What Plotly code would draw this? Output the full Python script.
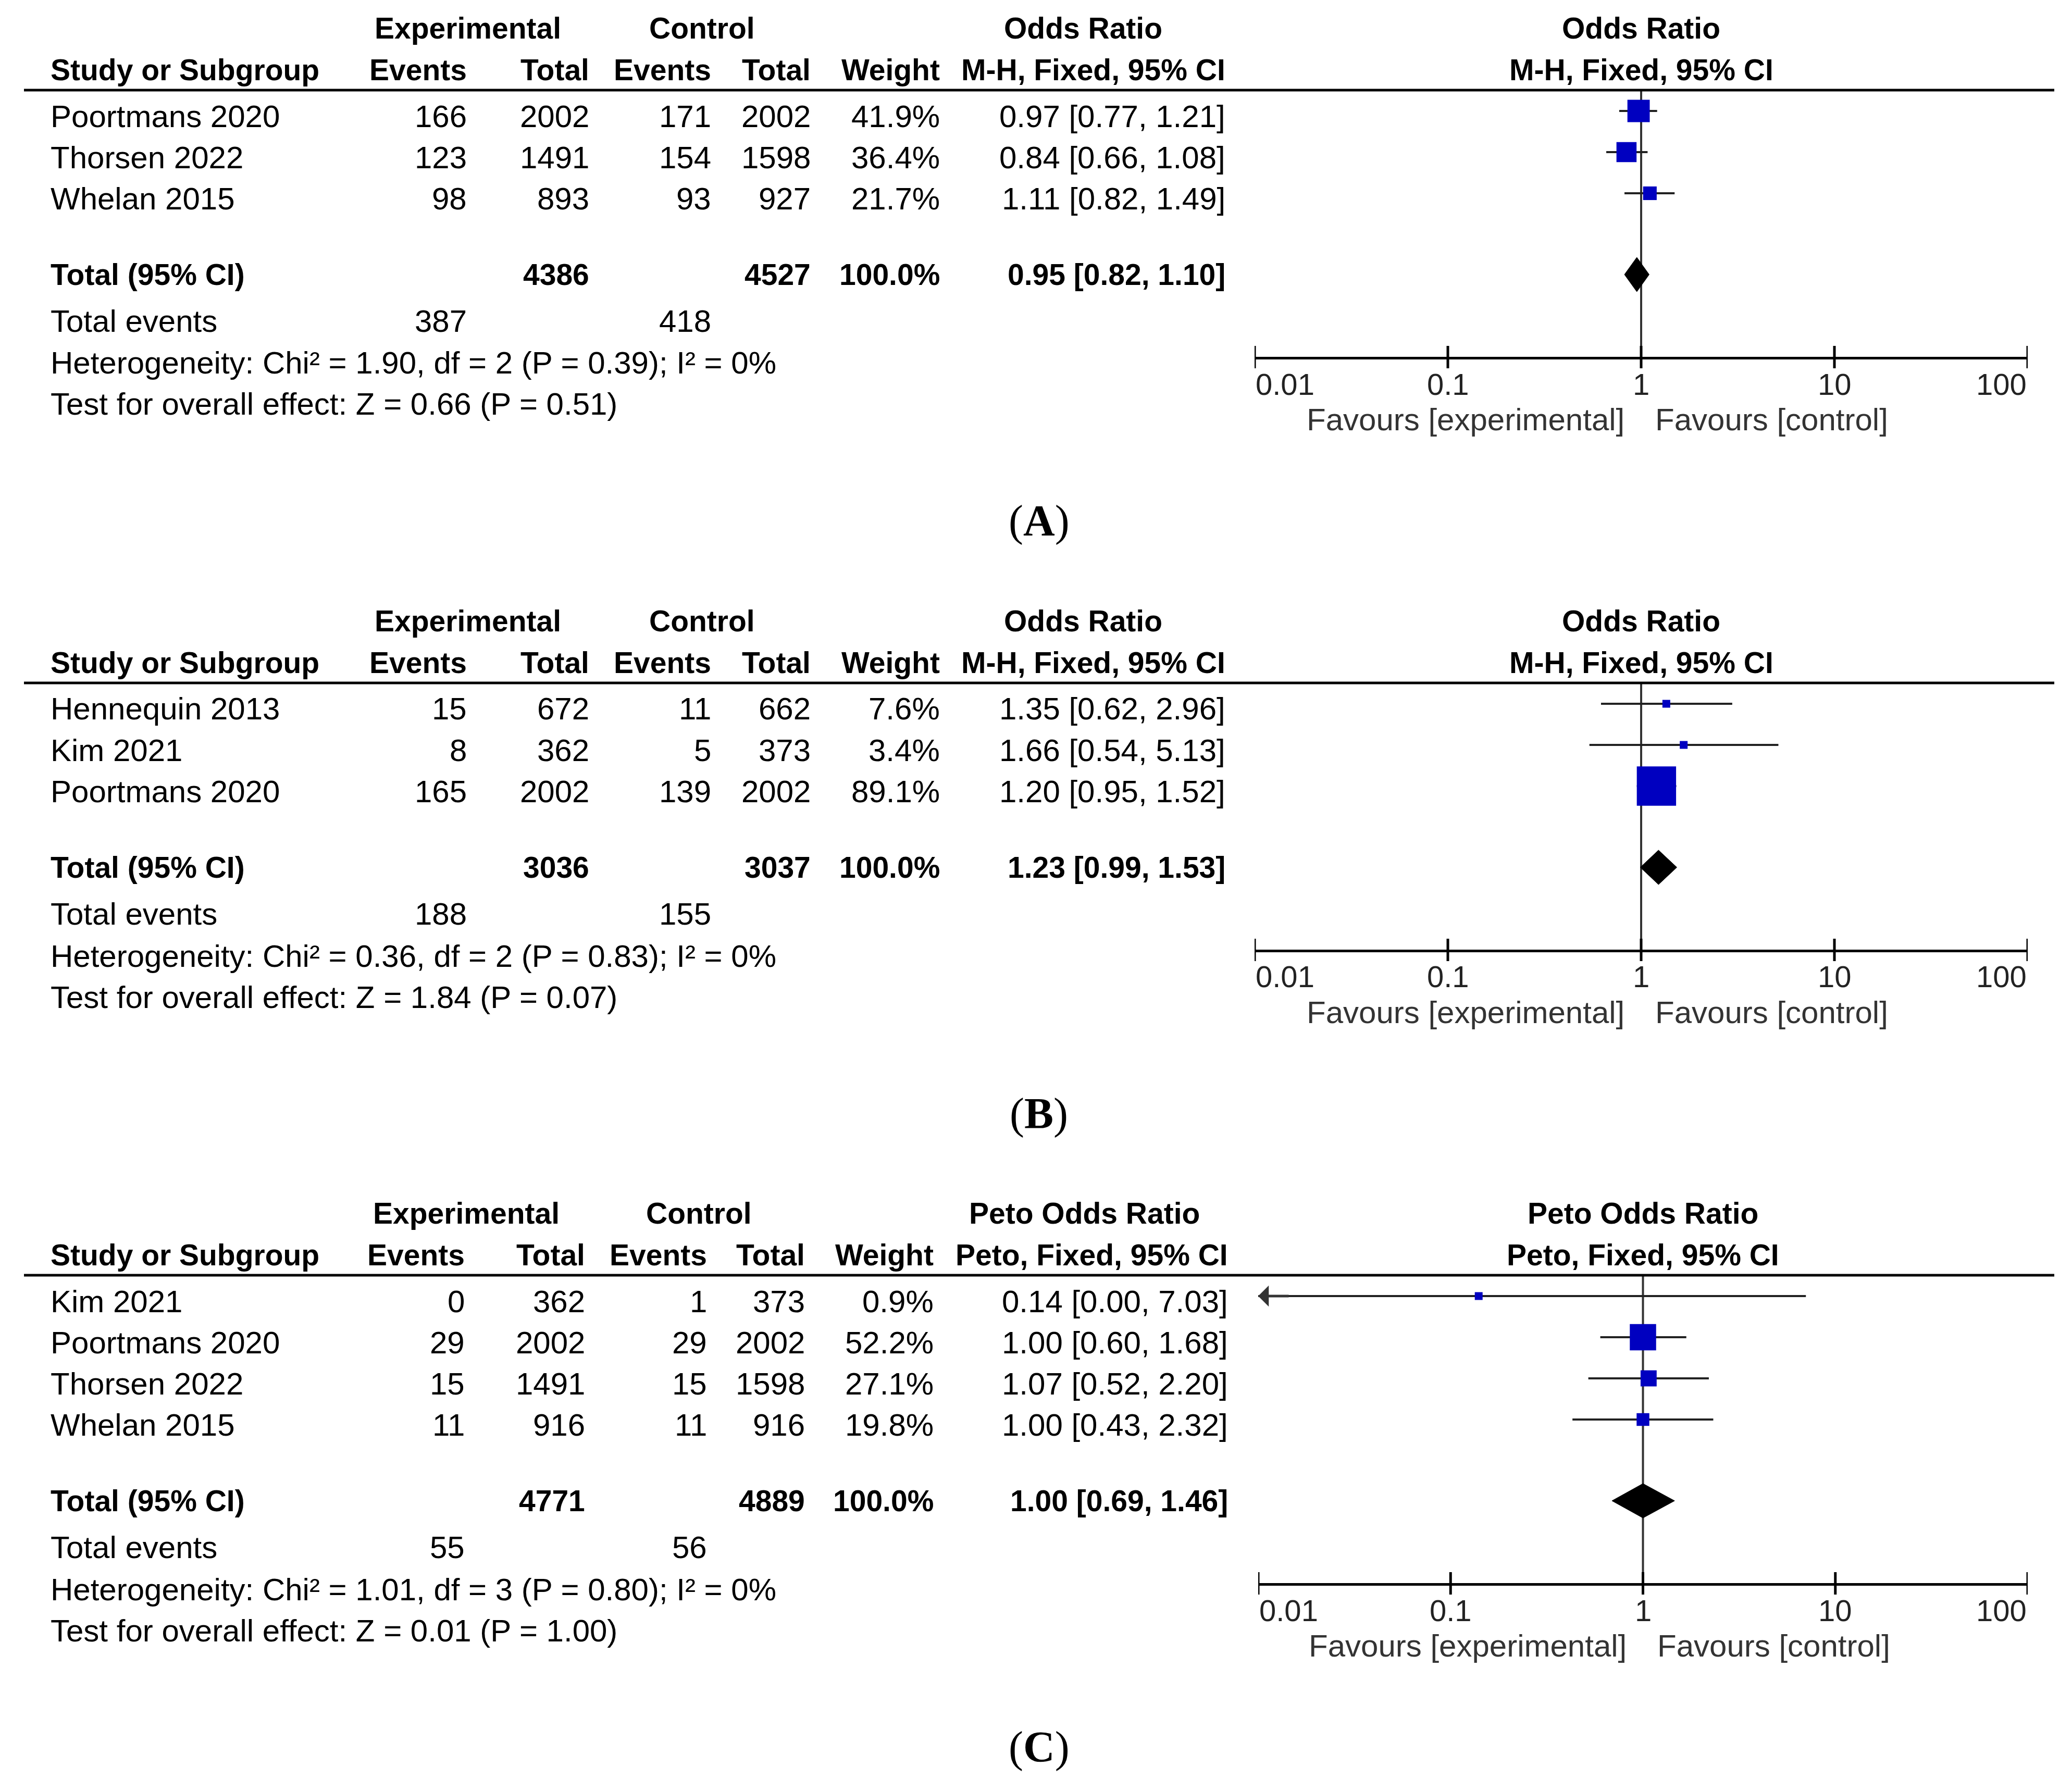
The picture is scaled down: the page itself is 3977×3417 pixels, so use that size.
import math
import plotly.graph_objects as go

W, H = 3977, 3417

# ---------------- data ----------------
tick_vals = [0.01, 0.1, 1, 10, 100]
tick_text = ["0.01", "0.1", "1", "10", "100"]

# Panel A
a_study = ["Poortmans 2020", "Thorsen 2022", "Whelan 2015"]
a_exp_events = [166, 123, 98]
a_exp_total = [2002, 1491, 893]
a_ctl_events = [171, 154, 93]
a_ctl_total = [2002, 1598, 927]
a_weight = [41.9, 36.4, 21.7]
a_or = [0.97, 0.84, 1.11]
a_lo = [0.77, 0.66, 0.82]
a_hi = [1.21, 1.08, 1.49]
a_totals = [4386, 4527]
a_total_events = [387, 418]
a_pooled = [0.95, 0.82, 1.10]
a_het = "Heterogeneity: Chi² = 1.90, df = 2 (P = 0.39); I² = 0%"
a_test = "Test for overall effect: Z = 0.66 (P = 0.51)"

# Panel B
b_study = ["Hennequin 2013", "Kim 2021", "Poortmans 2020"]
b_exp_events = [15, 8, 165]
b_exp_total = [672, 362, 2002]
b_ctl_events = [11, 5, 139]
b_ctl_total = [662, 373, 2002]
b_weight = [7.6, 3.4, 89.1]
b_or = [1.35, 1.66, 1.20]
b_lo = [0.62, 0.54, 0.95]
b_hi = [2.96, 5.13, 1.52]
b_totals = [3036, 3037]
b_total_events = [188, 155]
b_pooled = [1.23, 0.99, 1.53]
b_het = "Heterogeneity: Chi² = 0.36, df = 2 (P = 0.83); I² = 0%"
b_test = "Test for overall effect: Z = 1.84 (P = 0.07)"

# Panel C
c_study = ["Kim 2021", "Poortmans 2020", "Thorsen 2022", "Whelan 2015"]
c_exp_events = [0, 29, 15, 11]
c_exp_total = [362, 2002, 1491, 916]
c_ctl_events = [1, 29, 15, 11]
c_ctl_total = [373, 2002, 1598, 916]
c_weight = [0.9, 52.2, 27.1, 19.8]
c_or = [0.14, 1.00, 1.07, 1.00]
c_lo = [0.00, 0.60, 0.52, 0.43]
c_hi = [7.03, 1.68, 2.20, 2.32]
c_totals = [4771, 4889]
c_total_events = [55, 56]
c_pooled = [1.00, 0.69, 1.46]
c_het = "Heterogeneity: Chi² = 1.01, df = 3 (P = 0.80); I² = 0%"
c_test = "Test for overall effect: Z = 0.01 (P = 1.00)"

panel_labels = ["A", "B", "C"]

# ---------------- layout constants (pixels) ----------------
FONT = "Liberation Sans"
SERIF = "Liberation Serif"
FS = 60
FSB = 57
TXT = "#000000"
GREY = "#222222"
BLUE = "#0000C0"

HDR1, HDR2, LINE, ROW0, ROWH = 54, 134, 173, 223, 79
TOT_GAP, EVT, HET, TEST, AXIS = 146, 89, 170, 249, 160
TICKLAB, FAV, LABEL = 50, 118, 473
MARK_OFF = -10
DIAM_H = 33

panels = [
    dict(study=a_study, ee=a_exp_events, et=a_exp_total, ce=a_ctl_events, ct=a_ctl_total,
         w=a_weight, est=a_or, lo=a_lo, hi=a_hi, totals=a_totals, tev=a_total_events,
         pooled=a_pooled, het=a_het, test=a_test, m1="Odds Ratio", m2="M-H, Fixed, 95% CI",
         base=0, cols=[898, 1133, 1367, 1558, 1806, 2354], hc=[898, 1347, 2079],
         name_x=95, fx=[2408, 3892]),
    dict(study=b_study, ee=b_exp_events, et=b_exp_total, ce=b_ctl_events, ct=b_ctl_total,
         w=b_weight, est=b_or, lo=b_lo, hi=b_hi, totals=b_totals, tev=b_total_events,
         pooled=b_pooled, het=b_het, test=b_test, m1="Odds Ratio", m2="M-H, Fixed, 95% CI",
         base=1138, cols=[898, 1133, 1367, 1558, 1806, 2354], hc=[898, 1347, 2079],
         name_x=95, fx=[2408, 3892]),
    dict(study=c_study, ee=c_exp_events, et=c_exp_total, ce=c_ctl_events, ct=c_ctl_total,
         w=c_weight, est=c_or, lo=c_lo, hi=c_hi, totals=c_totals, tev=c_total_events,
         pooled=c_pooled, het=c_het, test=c_test, m1="Peto Odds Ratio", m2="Peto, Fixed, 95% CI",
         base=2275, cols=[894, 1125, 1359, 1547, 1794, 2359], hc=[895, 1341, 2081],
         name_x=95, fx=[2415, 3892]),
]


def px(x):
    return x / W


def py(y):
    return 1 - y / H


annotations = []
shapes = []
fig = go.Figure()


def text(t, x, y, anchor="left", bold=False, size=None, color=TXT, family=FONT, xref="paper", xshift=0):
    annotations.append(dict(
        text=f"<b>{t}</b>" if bold else t,
        x=x if xref != "paper" else px(x), y=py(y), xref=xref, yref="paper",
        xanchor=anchor, yanchor="middle", showarrow=False, xshift=xshift,
        font=dict(family=family, size=size or (FSB if bold else FS), color=color),
    ))


def ci_str(e, l, h):
    return f"{e:.2f} [{l:.2f}, {h:.2f}]"


layout_axes = {}
for i, p in enumerate(panels):
    b = p["base"]
    n = len(p["study"])
    cols = p["cols"]
    xa = "x" if i == 0 else f"x{i+1}"
    ya = "y" if i == 0 else f"y{i+1}"
    xname = "xaxis" if i == 0 else f"xaxis{i+1}"
    yname = "yaxis" if i == 0 else f"yaxis{i+1}"

    rows = [ROW0 + k * ROWH for k in range(n)]
    tot = rows[-1] + TOT_GAP
    axis_y = tot + AXIS

    # ---- header ----
    text("Experimental", p["hc"][0], b + HDR1, "center", bold=True)
    text("Control", p["hc"][1], b + HDR1, "center", bold=True)
    text(p["m1"], p["hc"][2], b + HDR1, "center", bold=True)
    text("Study or Subgroup", p["name_x"], b + HDR2, "left", bold=True)
    for lab, cx in zip(["Events", "Total", "Events", "Total", "Weight", p["m2"]], cols):
        text(lab, cx, b + HDR2, "right", bold=True)
    text(p["m1"], 0, b + HDR1, "center", bold=True, xref=xa)
    text(p["m2"], 0, b + HDR2, "center", bold=True, xref=xa)

    shapes.append(dict(type="line", xref="paper", yref="paper", x0=px(46), x1=px(3943),
                       y0=py(b + LINE), y1=py(b + LINE), line=dict(color="black", width=5)))

    # ---- study rows ----
    for k in range(n):
        y = b + rows[k]
        text(p["study"][k], p["name_x"], y, "left")
        vals = [str(p["ee"][k]), str(p["et"][k]), str(p["ce"][k]), str(p["ct"][k]),
                f"{p['w'][k]:.1f}%", ci_str(p["est"][k], p["lo"][k], p["hi"][k])]
        for v, cx in zip(vals, cols):
            text(v, cx, y, "right")

    # ---- totals ----
    yt = b + tot
    text("Total (95% CI)", p["name_x"], yt, "left", bold=True)
    text(str(p["totals"][0]), cols[1], yt, "right", bold=True)
    text(str(p["totals"][1]), cols[3], yt, "right", bold=True)
    text("100.0%", cols[4], yt, "right", bold=True)
    text(ci_str(*p["pooled"]), cols[5], yt, "right", bold=True)
    text("Total events", p["name_x"], yt + EVT, "left")
    text(str(p["tev"][0]), cols[0], yt + EVT, "right")
    text(str(p["tev"][1]), cols[2], yt + EVT, "right")
    text(p["het"], p["name_x"], yt + HET, "left")
    text(p["test"], p["name_x"], yt + TEST, "left")

    # panel label
    annotations.append(dict(text=f"(<b>{panel_labels[i]}</b>)", x=px(1994), y=py(yt + LABEL),
                            xref="paper", yref="paper", xanchor="center", yanchor="middle",
                            showarrow=False, font=dict(family=SERIF, size=84, color="black")))

    # ---- forest axes ----
    y_bottom = axis_y + 40
    layout_axes[xname] = dict(type="log", range=[-2, 2], domain=[px(p["fx"][0]), px(p["fx"][1])],
                              anchor="free", position=py(b + axis_y), showline=True, linewidth=5,
                              linecolor="black", ticks="", showticklabels=False, showgrid=False,
                              zeroline=False, fixedrange=True)
    layout_axes[yname] = dict(range=[y_bottom, LINE], domain=[py(b + y_bottom), py(b + LINE)],
                              visible=False, showgrid=False, zeroline=False, fixedrange=True,
                              anchor=xa)

    # line of no effect
    fig.add_trace(go.Scatter(x=[1, 1], y=[LINE, axis_y], mode="lines",
                             line=dict(color="#333333", width=4), xaxis=xa, yaxis=ya,
                             hoverinfo="skip", showlegend=False))

    # CIs
    cx_, cy_ = [], []
    for k in range(n):
        lo = max(p["lo"][k], tick_vals[0])
        hi = min(p["hi"][k], tick_vals[-1])
        cx_ += [lo, hi, None]
        cy_ += [rows[k] + MARK_OFF, rows[k] + MARK_OFF, None]
        if p["lo"][k] < tick_vals[0]:
            annotations.append(dict(x=math.log10(tick_vals[0]), y=rows[k] + MARK_OFF, xref=xa, yref=ya,
                                    ax=60, ay=0, text="", showarrow=True, arrowhead=1,
                                    arrowsize=1.35, arrowwidth=5, arrowcolor="#333333"))
    fig.add_trace(go.Scatter(x=cx_, y=cy_, mode="lines", line=dict(color=GREY, width=4),
                             xaxis=xa, yaxis=ya, hoverinfo="skip", showlegend=False))

    # squares
    sizes = [max(15, 2.6 * w ** 0.75) for w in p["w"]]
    fig.add_trace(go.Scatter(x=p["est"], y=[r + MARK_OFF for r in rows], mode="markers",
                             marker=dict(symbol="square", size=sizes, color=BLUE, opacity=1,
                                         line=dict(width=0)),
                             xaxis=xa, yaxis=ya, hoverinfo="skip", showlegend=False))

    # diamond
    e, l, h = p["pooled"]
    fig.add_trace(go.Scatter(x=[l, e, h, e, l], y=[tot, tot - DIAM_H, tot, tot + DIAM_H, tot],
                             mode="lines", fill="toself", fillcolor="black",
                             line=dict(color="black", width=1), xaxis=xa, yaxis=ya,
                             hoverinfo="skip", showlegend=False))

    # tick marks crossing the axis line
    tx, ty = [], []
    for t in tick_vals:
        tx += [t, t, None]
        ty += [axis_y - 23, axis_y + 20, None]
    fig.add_trace(go.Scatter(x=tx, y=ty, mode="lines", line=dict(color="black", width=5),
                             xaxis=xa, yaxis=ya, hoverinfo="skip", showlegend=False))

    # tick labels
    for j, (t, lab) in enumerate(zip(tick_vals, tick_text)):
        anc = "left" if j == 0 else ("right" if j == len(tick_vals) - 1 else "center")
        annotations.append(dict(text=lab, x=math.log10(t), y=py(b + axis_y + TICKLAB), xref=xa,
                                yref="paper", xanchor=anc, yanchor="middle", showarrow=False,
                                font=dict(family=FONT, size=58, color=GREY)))

    # favours labels
    text("Favours [experimental]", 0, b + axis_y + FAV, "right", color="#333333", xref=xa, xshift=-30)
    text("Favours [control]", 0, b + axis_y + FAV, "left", color="#333333", xref=xa, xshift=25)

fig.update_layout(
    width=W, height=H, autosize=False,
    margin=dict(l=0, r=0, t=0, b=0, pad=0),
    paper_bgcolor="white", plot_bgcolor="rgba(0,0,0,0)",
    showlegend=False, annotations=annotations, shapes=shapes,
    **layout_axes,
)

fig.write_html("out.html", config=dict(displayModeBar=False, staticPlot=True),
               post_script="document.body.style.margin='0';document.body.style.overflow='hidden';")
